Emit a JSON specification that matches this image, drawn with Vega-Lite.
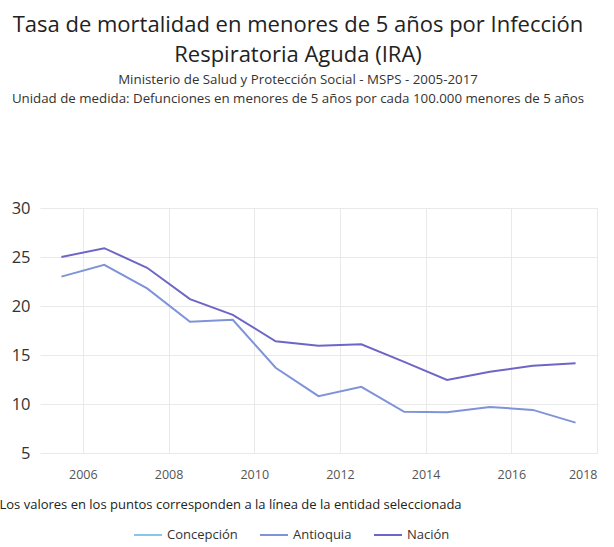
{
  "$schema": "https://vega.github.io/schema/vega-lite/v6.json",
  "width": 557,
  "height": 245,
  "autosize": {"type": "none"},
  "padding": {"left": 40, "top": 208, "right": 17, "bottom": 94},
  "background": "white",
  "title": {
    "text": ["Tasa de mortalidad en menores de 5 años por Infección", "Respiratoria Aguda (IRA)"],
    "subtitle": ["Ministerio de Salud y Protección Social - MSPS - 2005-2017", "Unidad de medida: Defunciones en menores de 5 años por cada 100.000 menores de 5 años"],
    "anchor": "middle",
    "frame": "bounds",
    "font": "Open Sans",
    "fontSize": 22,
    "fontWeight": "normal",
    "color": "#222222",
    "lineHeight": 30,
    "subtitleFont": "Open Sans",
    "subtitleFontSize": 13.3,
    "subtitleColor": "#333333",
    "subtitleLineHeight": 19,
    "subtitlePadding": 6,
    "offset": 94
  },
  "data": {
    "values": [
      {"anio": 2005.5, "entidad": "Nación", "valor": 25.0},
      {"anio": 2006.5, "entidad": "Nación", "valor": 25.9},
      {"anio": 2007.5, "entidad": "Nación", "valor": 23.9},
      {"anio": 2008.5, "entidad": "Nación", "valor": 20.7},
      {"anio": 2009.5, "entidad": "Nación", "valor": 19.1},
      {"anio": 2010.5, "entidad": "Nación", "valor": 16.4},
      {"anio": 2011.5, "entidad": "Nación", "valor": 15.95},
      {"anio": 2012.5, "entidad": "Nación", "valor": 16.1},
      {"anio": 2013.5, "entidad": "Nación", "valor": 14.3},
      {"anio": 2014.5, "entidad": "Nación", "valor": 12.45},
      {"anio": 2015.5, "entidad": "Nación", "valor": 13.3},
      {"anio": 2016.5, "entidad": "Nación", "valor": 13.9},
      {"anio": 2017.5, "entidad": "Nación", "valor": 14.15},
      {"anio": 2005.5, "entidad": "Antioquia", "valor": 23.0},
      {"anio": 2006.5, "entidad": "Antioquia", "valor": 24.2},
      {"anio": 2007.5, "entidad": "Antioquia", "valor": 21.8},
      {"anio": 2008.5, "entidad": "Antioquia", "valor": 18.4},
      {"anio": 2009.5, "entidad": "Antioquia", "valor": 18.6},
      {"anio": 2010.5, "entidad": "Antioquia", "valor": 13.7},
      {"anio": 2011.5, "entidad": "Antioquia", "valor": 10.8},
      {"anio": 2012.5, "entidad": "Antioquia", "valor": 11.75},
      {"anio": 2013.5, "entidad": "Antioquia", "valor": 9.2},
      {"anio": 2014.5, "entidad": "Antioquia", "valor": 9.15},
      {"anio": 2015.5, "entidad": "Antioquia", "valor": 9.7},
      {"anio": 2016.5, "entidad": "Antioquia", "valor": 9.4},
      {"anio": 2017.5, "entidad": "Antioquia", "valor": 8.1}
    ]
  },
  "mark": {"type": "line", "strokeWidth": 2},
  "encoding": {
    "x": {
      "field": "anio",
      "type": "quantitative",
      "scale": {"domain": [2005, 2018], "nice": false, "zero": false},
      "axis": {
        "values": [2006, 2008, 2010, 2012, 2014, 2016, 2018],
        "format": "d",
        "title": "Los valores en los puntos corresponden a la línea de la entidad seleccionada",
        "titleFont": "Open Sans",
        "titleFontSize": 13,
        "titleFontWeight": "normal",
        "titleColor": "#222222",
        "titleAnchor": "start",
        "titleAlign": "left",
        "titleX": -41,
        "titleY": 45,
        "labelFont": "Open Sans",
        "labelFontSize": 12.5,
        "labelColor": "#555555",
        "labelPadding": 15,
        "domain": false,
        "ticks": false,
        "grid": true,
        "gridColor": "#e9e9e9"
      }
    },
    "y": {
      "field": "valor",
      "type": "quantitative",
      "scale": {"domain": [5, 30], "nice": false, "zero": false},
      "axis": {
        "values": [5, 10, 15, 20, 25, 30],
        "title": null,
        "labelFont": "Open Sans",
        "labelFontSize": 16.5,
        "labelColor": "#333333",
        "labelPadding": 10,
        "domain": false,
        "ticks": false,
        "grid": true,
        "gridColor": "#e9e9e9"
      }
    },
    "color": {
      "field": "entidad",
      "type": "nominal",
      "scale": {
        "domain": ["Concepción", "Antioquia", "Nación"],
        "range": ["#86c7ea", "#7f93d8", "#6e66c6"]
      },
      "legend": {
        "title": null,
        "orient": "none",
        "direction": "horizontal",
        "legendX": 93,
        "legendY": 312,
        "symbolType": "stroke",
        "symbolStrokeWidth": 2,
        "symbolSize": 784,
        "labelFont": "Open Sans",
        "labelFontSize": 13,
        "labelColor": "#333333",
        "labelOffset": 4,
        "columnPadding": 18
      }
    }
  },
  "config": {"view": {"stroke": null}}
}
